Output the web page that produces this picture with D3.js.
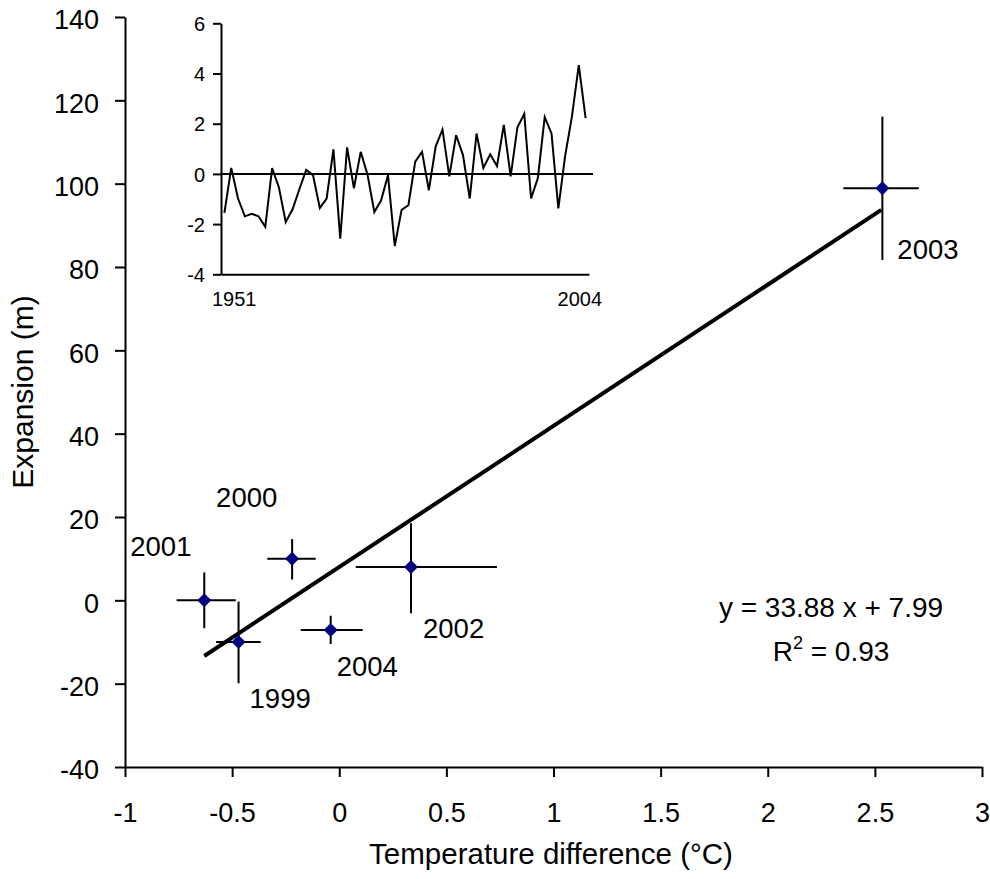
<!DOCTYPE html>
<html>
<head>
<meta charset="utf-8">
<script src="https://cdn.jsdelivr.net/npm/d3@7"></script>
<style>
  body { margin: 0; background: #fff; }
  svg { display: block; font-family: "Liberation Sans", Arial, sans-serif; }
</style>
</head>
<body>
<div id="chart"></div>
<script>
const years = ["1999", "2000", "2001", "2002", "2003", "2004"];
const tempDiff = [-0.47, -0.22, -0.63, 0.335, 2.535, -0.04];
const expansion = [-10, 10, 0, 8, 98.9, -7.1];
const tempLow = [-0.575, -0.336, -0.759, 0.077, 2.353, -0.18];
const tempHigh = [-0.367, -0.11, -0.483, 0.736, 2.705, 0.109];
const expLow = [-19.9, 5.0, -6.7, -3.1, 81.7, -10.5];
const expHigh = [-0.3, 14.7, 6.7, 18.5, 116.1, -3.7];

const slope = 33.88;
const intercept = 7.99;
const rSquared = 0.93;
const fitRange = [-0.63, 2.53];

const xTicks = [-1, -0.5, 0, 0.5, 1, 1.5, 2, 2.5, 3];
const yTicks = [-40, -20, 0, 20, 40, 60, 80, 100, 120, 140];

const insetYears = d3.range(1951, 2005);
const insetAnomaly = [
  -1.55, 0.24, -0.98, -1.69, -1.59, -1.69, -2.11, 0.23, -0.54, -1.92,
  -1.41, -0.61, 0.16, -0.05, -1.36, -0.98, 0.98, -2.58, 1.06, -0.57,
  0.88, -0.03, -1.52, -1.05, -0.05, -2.88, -1.43, -1.25, 0.49, 0.88,
  -0.65, 1.09, 1.77, -0.10, 1.54, 0.76, -0.98, 1.61, 0.24, 0.78,
  0.31, 1.95, -0.10, 1.86, 2.39, -0.98, -0.16, 2.26, 1.61, -1.37,
  0.72, 2.29, 4.33, 2.22
];
const insetYTicks = [-4, -2, 0, 2, 4, 6];
const insetXLabels = [1951, 2004];

const width = 990;
const height = 879;

const svg = d3.select("#chart")
  .append("svg")
  .attr("width", width)
  .attr("height", height);

const x = d3.scaleLinear().domain([-1, 3]).range([125, 982]);
const y = d3.scaleLinear().domain([-40, 140]).range([767, 17]);

const points = years.map((year, i) => ({
  year,
  x: tempDiff[i],
  y: expansion[i],
  xLo: tempLow[i],
  xHi: tempHigh[i],
  yLo: expLow[i],
  yHi: expHigh[i],
}));

// axes
const xAxis = svg.append("g")
  .attr("transform", `translate(0, ${y(-40)})`)
  .call(d3.axisBottom(x)
    .tickValues(xTicks)
    .tickSize(10)
    .tickSizeOuter(0)
    .tickPadding(26));

const yAxis = svg.append("g")
  .attr("transform", `translate(${x(-1)}, 0)`)
  .call(d3.axisLeft(y)
    .tickValues(yTicks)
    .tickSize(10)
    .tickSizeOuter(0)
    .tickPadding(16));

[xAxis, yAxis].forEach(axis => {
  axis.selectAll("path, line").attr("stroke", "#000").attr("stroke-width", 2);
  axis.selectAll("text")
    .attr("fill", "#000")
    .style("font-size", "27px")
    .style("font-family", "'Liberation Sans', Arial, sans-serif");
});
yAxis.selectAll("text").attr("dy", "0.44em");
xAxis.selectAll("text").text(d => String(d));
yAxis.selectAll("text").text(d => String(d));

svg.append("text")
  .attr("x", 551)
  .attr("y", 864)
  .attr("text-anchor", "middle")
  .style("font-size", "29.5px")
  .text("Temperature difference (°C)");

svg.append("text")
  .attr("transform", "translate(33, 392) rotate(-90)")
  .attr("text-anchor", "middle")
  .style("font-size", "30px")
  .text("Expansion (m)");

// regression line
svg.append("line")
  .attr("x1", x(fitRange[0]))
  .attr("y1", y(slope * fitRange[0] + intercept))
  .attr("x2", x(fitRange[1]))
  .attr("y2", y(slope * fitRange[1] + intercept))
  .attr("stroke", "#000")
  .attr("stroke-width", 4);

// error bars
const bars = svg.selectAll(".err")
  .data(points)
  .enter()
  .append("g")
  .attr("class", "err");

bars.append("line")
  .attr("x1", d => x(d.xLo))
  .attr("x2", d => x(d.xHi))
  .attr("y1", d => y(d.y))
  .attr("y2", d => y(d.y))
  .attr("stroke", "#000")
  .attr("stroke-width", 2);

bars.append("line")
  .attr("x1", d => x(d.x))
  .attr("x2", d => x(d.x))
  .attr("y1", d => y(d.yLo))
  .attr("y2", d => y(d.yHi))
  .attr("stroke", "#000")
  .attr("stroke-width", 2);

svg.selectAll(".marker")
  .data(points)
  .enter()
  .append("path")
  .attr("class", "marker")
  .attr("transform", d => `translate(${x(d.x)}, ${y(d.y)})`)
  .attr("d", "M0,-7L7,0L0,7L-7,0Z")
  .attr("fill", "#000080");

// year labels, offset from their point
const labelOffset = {
  "1999": [11, 66],
  "2000": [-76, -52],
  "2001": [-74, -44],
  "2002": [12, 71],
  "2003": [15, 71],
  "2004": [6, 46],
};

svg.selectAll(".label")
  .data(points)
  .enter()
  .append("text")
  .attr("class", "label")
  .attr("x", d => x(d.x) + labelOffset[d.year][0])
  .attr("y", d => y(d.y) + labelOffset[d.year][1])
  .style("font-size", "27.5px")
  .text(d => d.year);

svg.append("text")
  .attr("x", 831)
  .attr("y", 617)
  .attr("text-anchor", "middle")
  .style("font-size", "28px")
  .text(`y = ${slope} x + ${intercept}`);

const r2 = svg.append("text")
  .attr("x", 831)
  .attr("y", 661)
  .attr("text-anchor", "middle")
  .style("font-size", "28px");
r2.append("tspan").text("R");
r2.append("tspan").attr("dy", -12).style("font-size", "18px").text("2");
r2.append("tspan").attr("dy", 12).text(` = ${rSquared}`);

// inset
const ix = d3.scaleLinear().domain([1950.5, 2004.5]).range([221, 589]);
const iy = d3.scaleLinear().domain([-4, 6]).range([274.3, 23.3]);

const insetY = svg.append("g")
  .attr("transform", `translate(${ix(1950.5)}, 0)`)
  .call(d3.axisLeft(iy)
    .tickValues(insetYTicks)
    .tickSize(8)
    .tickSizeOuter(0)
    .tickPadding(8));

const insetX = svg.append("g")
  .attr("transform", `translate(0, ${iy(-4)})`)
  .call(d3.axisBottom(ix)
    .tickValues(insetXLabels)
    .tickFormat(d3.format("d"))
    .tickSize(0)
    .tickSizeOuter(0)
    .tickPadding(18));

[insetX, insetY].forEach(axis => {
  axis.selectAll("path, line").attr("stroke", "#000").attr("stroke-width", 2);
  axis.selectAll("text")
    .attr("fill", "#000")
    .style("font-size", "20px")
    .style("font-family", "'Liberation Sans', Arial, sans-serif");
});
insetY.selectAll("text").text(d => String(d)).attr("dy", "0.36em");
insetX.selectAll("text")
  .attr("text-anchor", (d, i) => i === 0 ? "start" : "end")
  .attr("dx", (d, i) => i === 0 ? -13 : 16);

svg.append("line")
  .attr("x1", ix(1950.5))
  .attr("x2", ix(1950.5) + 372)
  .attr("y1", iy(0))
  .attr("y2", iy(0))
  .attr("stroke", "#000")
  .attr("stroke-width", 2);

const insetLine = d3.line()
  .x((d, i) => ix(insetYears[i]))
  .y(d => iy(d));

svg.append("path")
  .attr("d", insetLine(insetAnomaly))
  .attr("fill", "none")
  .attr("stroke", "#000")
  .attr("stroke-width", 2)
  .attr("stroke-linejoin", "miter");
</script>
</body>
</html>
